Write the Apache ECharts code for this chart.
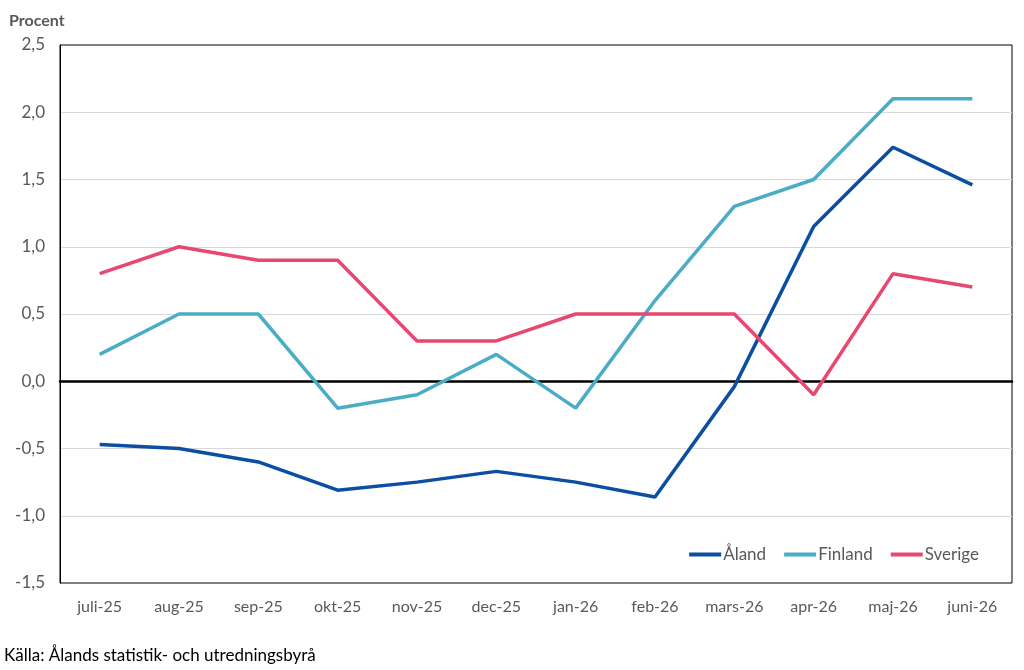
<!DOCTYPE html>
<html>
<head>
<meta charset="utf-8">
<script src="https://cdn.jsdelivr.net/npm/echarts@6/dist/echarts.min.js"></script>
<style>
  html, body { margin: 0; padding: 0; background: #fff; }
  #chart { width: 1024px; height: 670px; }
</style>
</head>
<body>
<div id="chart"></div>
<script>
// månader
const months = ['juli-25', 'aug-25', 'sep-25', 'okt-25', 'nov-25', 'dec-25', 'jan-26', 'feb-26', 'mars-26', 'apr-26', 'maj-26', 'juni-26']
const aland = [-0.47, -0.5, -0.6, -0.81, -0.75, -0.67, -0.75, -0.86, -0.04, 1.15, 1.74, 1.46]
const finland = [0.2, 0.5, 0.5, -0.2, -0.1, 0.2, -0.2, 0.6, 1.3, 1.5, 2.1, 2.1]
const sverige = [0.8, 1.0, 0.9, 0.9, 0.3, 0.3, 0.5, 0.5, 0.5, -0.1, 0.8, 0.7]

const font = 'Lato, "Open Sans", sans-serif'
const grey = '#595959'

let myChart = echarts.init(document.getElementById('chart'))
myChart.setOption({
  animation: false,
  title: {
    text: 'Procent',
    left: 4,
    top: 8,
    textStyle: { color: grey, fontWeight: 'bold', fontSize: 16, fontFamily: font }
  },
  graphic: [{
    type: 'text',
    left: 4,
    top: 647,
    style: { text: 'Källa: Ålands statistik- och utredningsbyrå', fill: '#000', fontSize: 17, fontFamily: font }
  }],
  legend: {
    data: ['Åland', 'Finland', 'Sverige'],
    right: 40,
    top: 541,
    icon: 'rect',
    itemWidth: 32,
    itemHeight: 4,
    itemGap: 18,
    textStyle: { color: grey, fontSize: 17, fontFamily: font, padding: [0, 0, 0, -3] }
  },
  grid: {
    left: 60,
    right: 12,
    top: 45,
    bottom: 87,
    show: true,
    borderColor: '#000',
    borderWidth: 1
  },
  xAxis: {
    type: 'category',
    data: months,
    boundaryGap: true,
    axisTick: { show: false },
    axisLine: { onZero: true, lineStyle: { color: '#000', width: 2.5 } },
    axisLabel: { color: grey, fontSize: 16, fontFamily: font, margin: 16, interval: 0 },
    position: 'bottom'
  },
  yAxis: {
    type: 'value',
    min: -1.5,
    max: 2.5,
    interval: 0.5,
    axisLine: { show: true, lineStyle: { color: '#000', width: 1 } },
    axisTick: { show: false },
    axisLabel: {
      color: grey,
      fontSize: 17,
      fontFamily: font,
      margin: 15,
      formatter: v => v.toFixed(1).replace('.', ',')
    },
    splitLine: { showMinLine: false, showMaxLine: false, lineStyle: { color: '#d9d9d9', width: 1 } }
  },
  series: [
    {
      name: 'Åland',
      type: 'line',
      data: aland,
      symbol: 'none',
      color: '#0b4ea2',
      lineStyle: { width: 3.5 }
    },
    {
      name: 'Finland',
      type: 'line',
      data: finland,
      symbol: 'none',
      color: '#4bacc6',
      lineStyle: { width: 3.5 }
    },
    {
      name: 'Sverige',
      type: 'line',
      data: sverige,
      symbol: 'none',
      color: '#e8486f',
      lineStyle: { width: 3.5 }
    }
  ]
})
</script>
</body>
</html>
